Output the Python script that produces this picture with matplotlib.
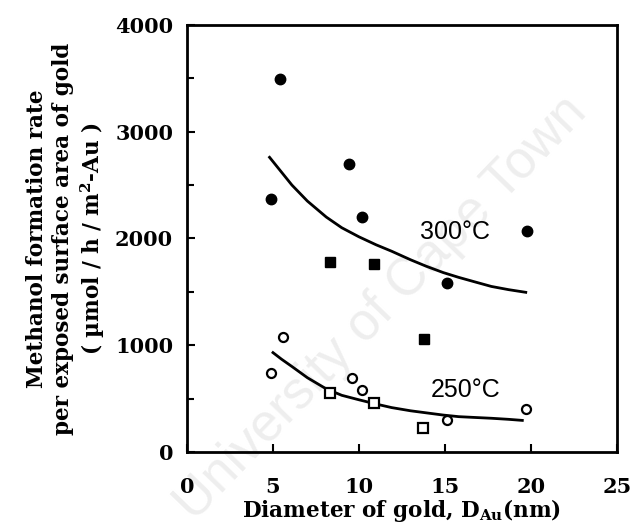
import numpy as np
import matplotlib
matplotlib.use('Agg')
import matplotlib.pyplot as plt

# 300 C data (filled symbols)
x_300_circ = [4.9, 5.4, 9.4, 10.2, 15.1, 19.8]
y_300_circ = [2370, 3490, 2700, 2200, 1580, 2070]
x_300_sq = [8.3, 10.9, 13.8]
y_300_sq = [1775, 1765, 1060]

# 250 C data (open symbols)
x_250_circ = [4.9, 5.6, 9.6, 10.2, 15.1, 19.7]
y_250_circ = [742, 1080, 693, 582, 300, 404]
x_250_sq = [8.3, 10.9, 13.7]
y_250_sq = [554, 460, 225]

# trend curves
x_fit_300 = [4.8, 5.4, 6.1, 7.0, 8.1, 9.0, 10.0, 11.0, 11.9, 13.0, 13.9, 14.9, 15.8, 16.8, 17.7, 18.7, 19.7]
y_fit_300 = [2760, 2640, 2500, 2350, 2200, 2100, 2015, 1940, 1880, 1800, 1740, 1680, 1635, 1590, 1550, 1520, 1495]
x_fit_250 = [5.0, 5.5, 6.1, 7.0, 8.1, 9.0, 10.0, 11.0, 11.9, 13.0, 13.9, 14.9, 15.8, 16.8, 17.7, 18.7, 19.5]
y_fit_250 = [930, 868, 800, 695, 590, 530, 488, 448, 415, 385, 366, 345, 330, 322, 315, 305, 295]

serif = 'DejaVu Serif'

fig = plt.figure(figsize=(6.35, 5.31), dpi=100)
ax = fig.add_axes([0.2945, 0.149, 0.677, 0.804])
ax.patch.set_visible(False)

# faint watermark
fig.text(0.60, 0.42, 'University of Cape Town', fontsize=38, color='#eeeeee',
         rotation=46, ha='center', va='center', family='Liberation Sans', zorder=-5)

ax.plot(x_fit_300, y_fit_300, color='black', lw=2.0, zorder=2)
ax.plot(x_fit_250, y_fit_250, color='black', lw=2.0, zorder=2)

ax.plot(x_300_circ, y_300_circ, 'o', color='black', ms=7.5, zorder=3, ls='none')
ax.plot(x_300_sq, y_300_sq, 's', color='black', ms=7.5, zorder=3, ls='none')
ax.plot(x_250_circ, y_250_circ, 'o', mfc='white', mec='black', mew=1.6, ms=6.5, zorder=3, ls='none')
ax.plot(x_250_sq, y_250_sq, 's', mfc='white', mec='black', mew=1.6, ms=7, zorder=3, ls='none')

ax.text(15.6, 2060, '300°C', fontsize=18, family='Liberation Sans', ha='center', va='center')
ax.text(16.2, 582, '250°C', fontsize=18, family='Liberation Sans', ha='center', va='center')

ax.set_xlim(0, 25)
ax.set_ylim(0, 4000)
ax.set_xticks([0, 5, 10, 15, 20, 25])
ax.set_yticks([0, 1000, 2000, 3000, 4000])
ax.set_yticks([500, 1500, 2500, 3500], minor=True)
ax.tick_params(direction='in', length=6, width=1.5, labelsize=15)
ax.tick_params(axis='y', pad=10)
ax.tick_params(axis='x', pad=18)
ax.tick_params(which='minor', direction='in', length=5, width=1.5)
for lab in ax.get_xticklabels() + ax.get_yticklabels():
    lab.set_family(serif)
    lab.set_fontweight('bold')
for s in ax.spines.values():
    s.set_linewidth(2.0)

ax.set_xlabel('Diameter of gold, D$_{\\mathregular{Au}}$(nm)', family=serif,
              fontweight='bold', fontsize=15.5, labelpad=0)
ax.set_ylabel('Methanol formation rate\nper exposed surface area of gold\n( µmol / h / m$^{\\mathregular{2}}$-Au )',
              family=serif, fontweight='bold', fontsize=15.5, labelpad=6, linespacing=1.2)

fig.savefig('out.png', dpi=100)
